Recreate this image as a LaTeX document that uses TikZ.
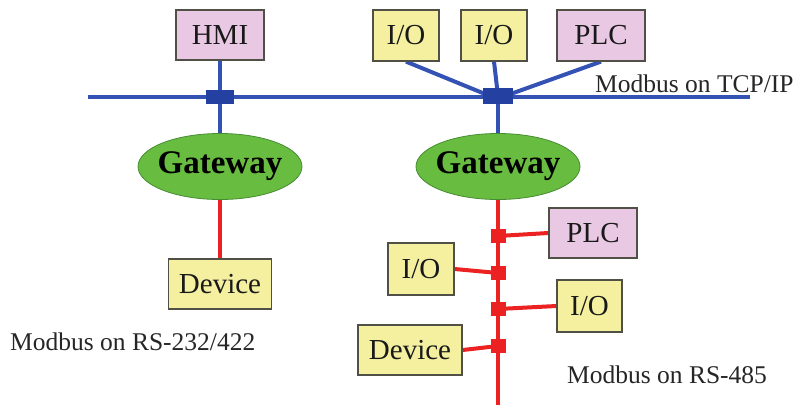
\documentclass[tikz,border=0pt]{standalone}
\usepackage{fontspec}
\setmainfont{Liberation Serif}
\usetikzlibrary{shapes.geometric,backgrounds}
\definecolor{pinkbox}{RGB}{233,200,228}
\definecolor{yellowbox}{RGB}{244,240,160}
\definecolor{gwgreen}{RGB}{104,188,64}
\definecolor{gwedge}{RGB}{70,140,50}
\definecolor{busblue}{RGB}{52,82,180}
\definecolor{jblue}{RGB}{36,64,160}
\definecolor{busred}{RGB}{236,34,34}
\definecolor{boxedge}{RGB}{80,80,70}
\tikzset{
  devbox/.style={draw=boxedge, line width=1.2pt, inner sep=0pt, font=\fontsize{29}{31}\selectfont, text=black!90},
  pinkb/.style={devbox, fill=pinkbox},
  yellb/.style={devbox, fill=yellowbox},
  gateway/.style={ellipse, draw=gwedge, line width=0.8pt, fill=gwgreen, inner sep=0pt,
     minimum width=164pt, minimum height=66pt,
     label={[inner sep=0pt, font=\fontsize{33}{35}\selectfont\bfseries]center:Gateway}},
  bjunc/.style={fill=jblue, inner sep=0pt},
  rjunc/.style={fill=busred, inner sep=0pt, minimum width=15pt, minimum height=14pt},
  blueline/.style={draw=busblue, line width=4pt},
  redline/.style={draw=busred, line width=4pt},
  lbl/.style={inner sep=0pt, font=\fontsize{25.5}{27}\selectfont, text=black!85}
}
\begin{document}
\begin{tikzpicture}[x=1pt,y=-1pt]
\useasboundingbox (0,0) rectangle (793,405);
% top devices
\node[pinkb, minimum width=88pt, minimum height=50pt] (hmi) at (220,35) {HMI};
\node[yellb, minimum width=66pt, minimum height=51pt] (io1) at (406,35.5) {I/O};
\node[yellb, minimum width=66pt, minimum height=51pt] (io2) at (494,35.5) {I/O};
\node[pinkb, minimum width=88pt, minimum height=51pt] (plc1) at (601,35.5) {PLC};
% bus
\coordinate (busL) at (88,97);
\coordinate (busR) at (750,97);
\node[bjunc, minimum width=28pt, minimum height=14pt] (jL) at (220,97) {};
\node[bjunc, minimum width=30pt, minimum height=16pt] (jR) at (498,96) {};
\node[lbl, anchor=west] (tcp) at (595,84) {Modbus on TCP/IP};
% gateways
\node[gateway] (gw1) at (220,166.5) {};
\node[gateway] (gw2) at (498,166.5) {};
% left serial
\node[yellb, minimum width=103pt, minimum height=50pt] (dev1) at (220,284) {Device};
\node[lbl, anchor=west] (rs232) at (10,342) {Modbus on RS-232/422};
% right RS-485
\coordinate (rbot) at (498,405);
\node[rjunc] (r1) at (498,236) {};
\node[rjunc] (r2) at (498,273) {};
\node[rjunc] (r3) at (498,309) {};
\node[rjunc] (r4) at (498,346) {};
\node[pinkb, minimum width=88pt, minimum height=50pt] (plc2) at (593,233) {PLC};
\node[yellb, minimum width=66pt, minimum height=52pt] (io3) at (421,269) {I/O};
\node[yellb, minimum width=65pt, minimum height=52pt] (io4) at (589.5,306) {I/O};
\node[yellb, minimum width=104pt, minimum height=50pt] (dev2) at (410,350) {Device};
\node[lbl, anchor=west] (rs485) at (567,375) {Modbus on RS-485};
\begin{scope}[on background layer]
  \draw[blueline] (busL) -- (busR);
  \draw[blueline] (hmi.south) -- (jL.center) -- (gw1.north);
  \draw[blueline] (jR.center) -- (gw2.north);
  \draw[blueline] (io1.south) -- ([xshift=-8pt]jR.center);
  \draw[blueline] (io2.south) -- (jR.center);
  \draw[blueline] (plc1.south) -- ([xshift=7pt]jR.center);
  \draw[redline] (gw1.south) -- (dev1.north);
  \draw[redline] (gw2.south) -- (rbot);
  \draw[redline] (plc2.west) -- (r1.center);
  \draw[redline] (io3.east) -- (r2.center);
  \draw[redline] (io4.west) -- (r3.center);
  \draw[redline] (dev2.east) -- (r4.center);
\end{scope}
\end{tikzpicture}
\end{document}
